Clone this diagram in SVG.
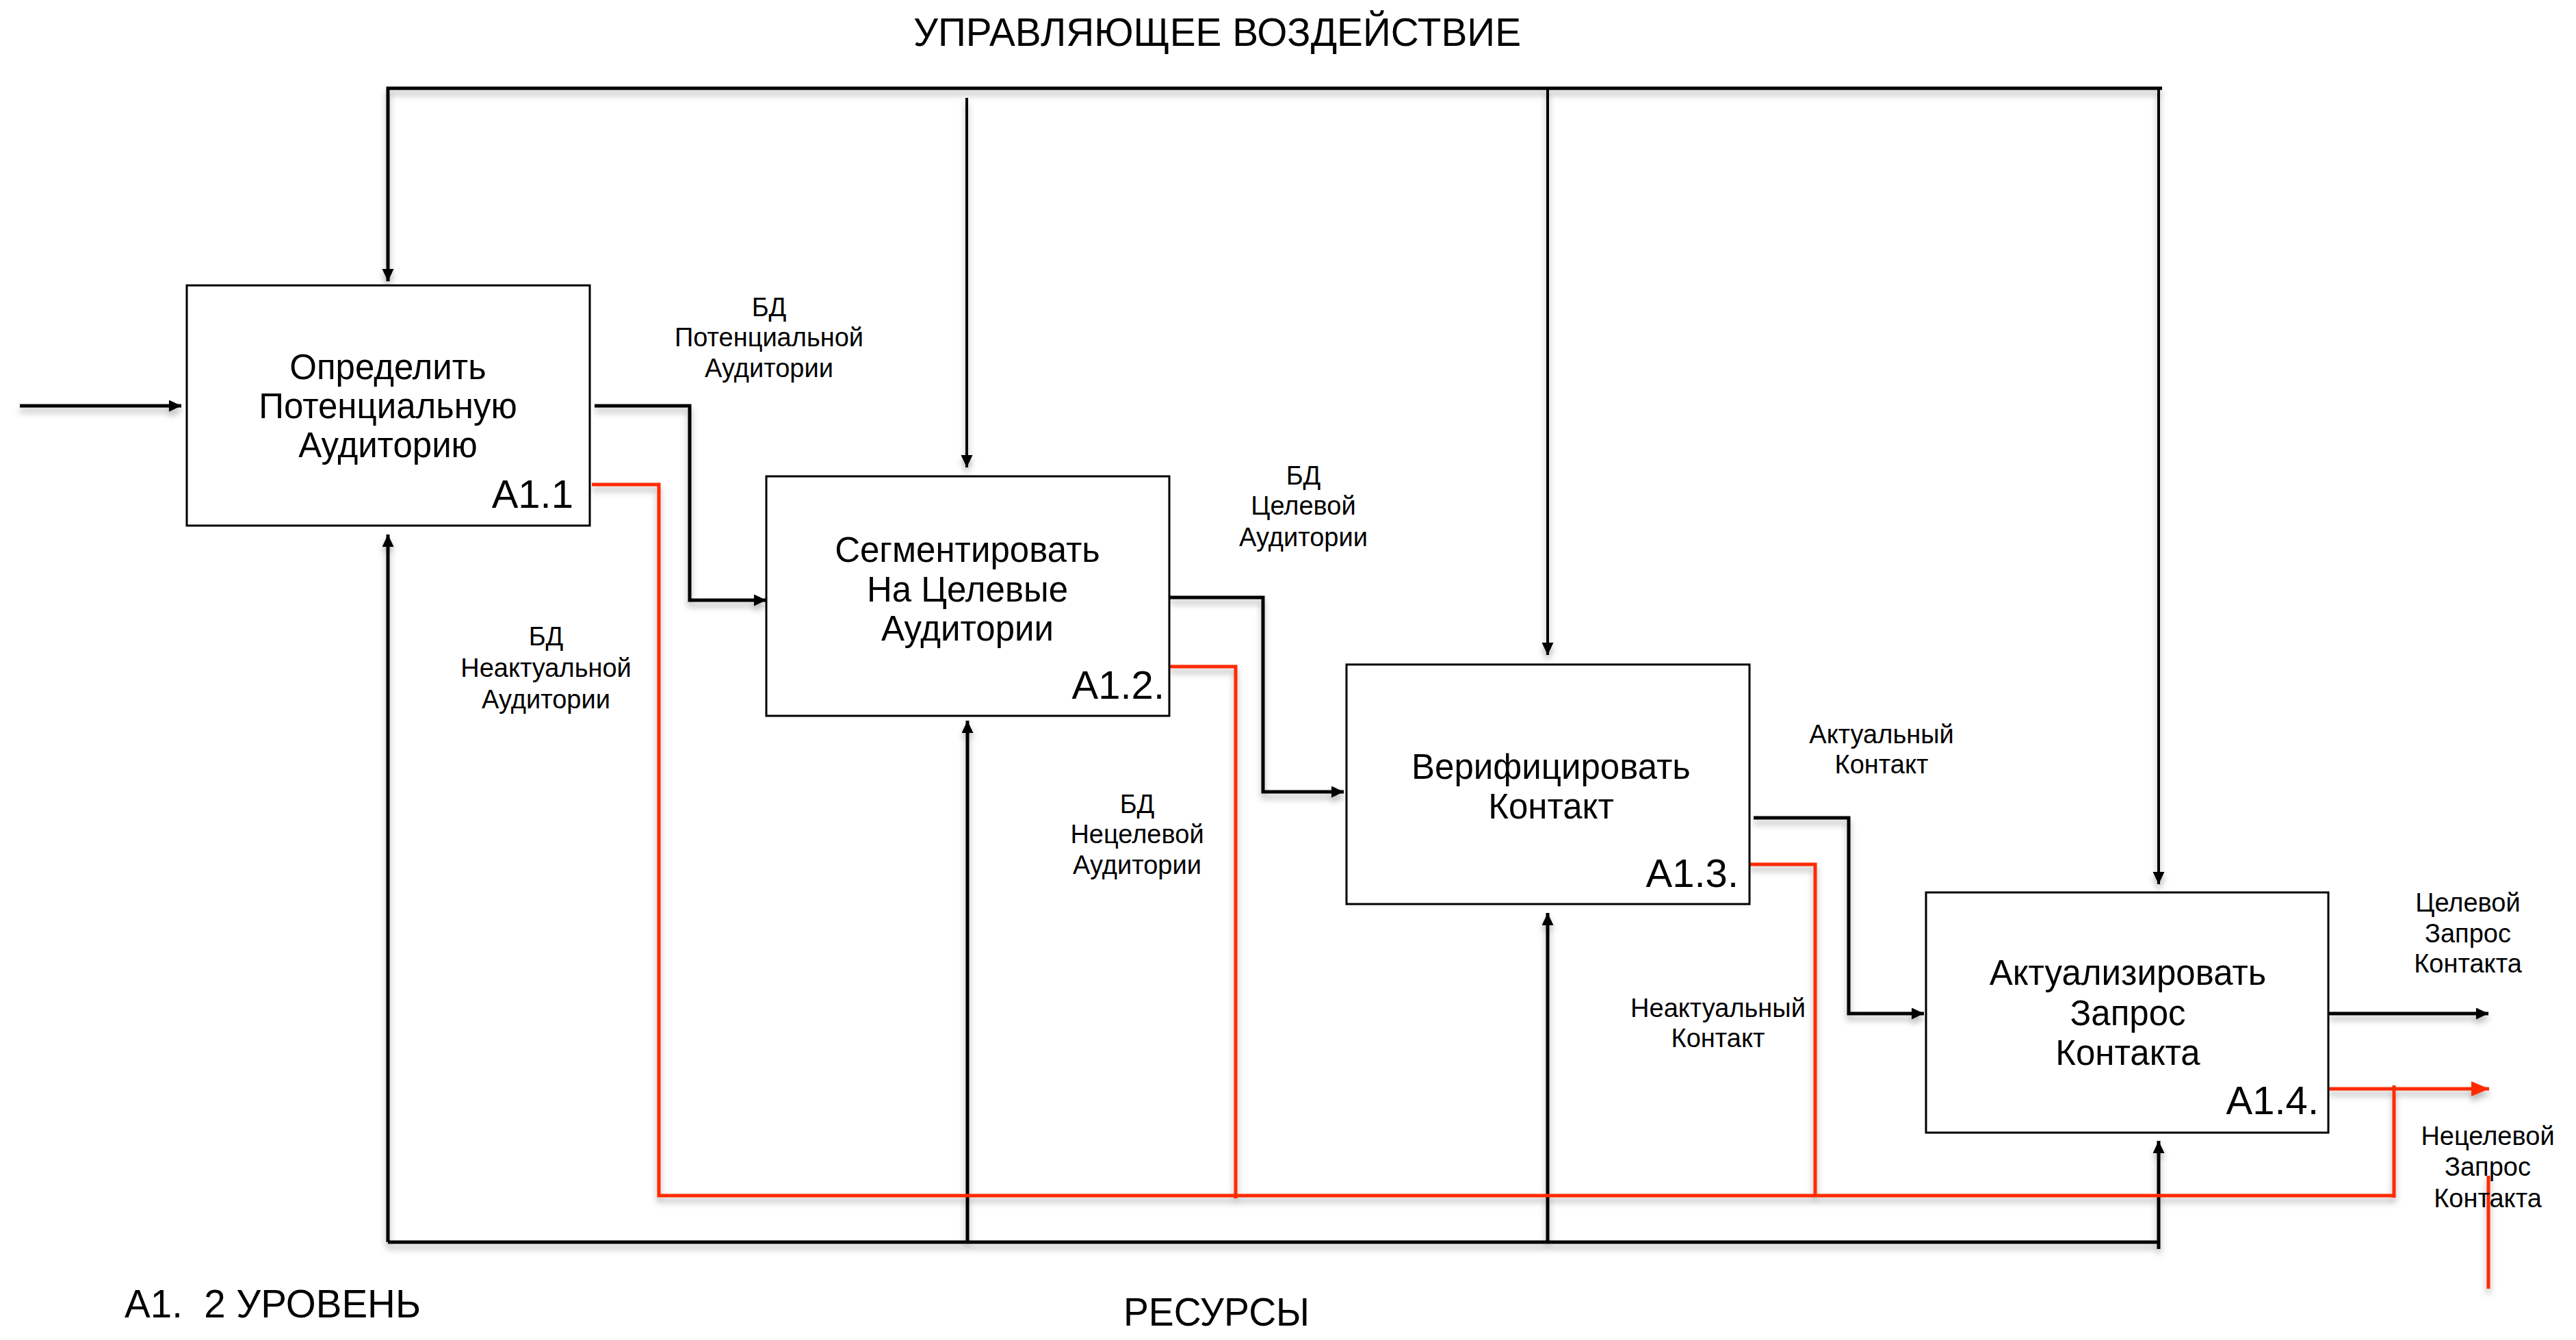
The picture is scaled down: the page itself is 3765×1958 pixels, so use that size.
<svg xmlns="http://www.w3.org/2000/svg" width="3765" height="1958" viewBox="0 0 3765 1958">
<style>
text{font-family:"Liberation Sans","DejaVu Sans",sans-serif;fill:#000}
.box{fill:#fff;stroke:#000;stroke-width:3}
.bt{font-size:51px;text-anchor:middle}
.id{font-size:58px;text-anchor:end}
.lbl{font-size:38px;text-anchor:middle}
.big{font-size:57px}
.k{fill:none;stroke:#000;stroke-width:5}
.kt{fill:none;stroke:#000;stroke-width:4}
.r{fill:none;stroke:#ff2a00;stroke-width:5}
</style>
<defs>
<filter id="sh" x="-5%" y="-5%" width="110%" height="110%">
<feDropShadow dx="0" dy="7" stdDeviation="5" flood-color="#000" flood-opacity="0.3"/>
</filter>
<marker id="ak" markerUnits="userSpaceOnUse" markerWidth="20" markerHeight="18" refX="18" refY="8.5" orient="auto">
<path d="M0,0 L18,8.5 L0,17 z" fill="#000"/>
</marker>
<marker id="ar" markerUnits="userSpaceOnUse" markerWidth="28" markerHeight="24" refX="26" refY="11" orient="auto">
<path d="M0,0 L26,11 L0,22 z" fill="#ff2a00"/>
</marker>
</defs>
<rect width="3765" height="1958" fill="#fff"/>

<g id="connectors" filter="url(#sh)">
<path class="k" d="M3160,129 H567 V411" marker-end="url(#ak)"/>
<path class="kt" d="M1413,143 V683" marker-end="url(#ak)"/>
<path class="kt" d="M2262,129 V957" marker-end="url(#ak)"/>
<path class="kt" d="M3155,129 V1292" marker-end="url(#ak)"/>
<path class="k" d="M29,593 H265" marker-end="url(#ak)"/>
<path class="k" d="M869,593 H1008 V877 H1120" marker-end="url(#ak)"/>
<path class="k" d="M1709,873 H1846 V1157 H1964" marker-end="url(#ak)"/>
<path class="k" d="M2563,1195 H2702 V1481 H2812" marker-end="url(#ak)"/>
<path class="k" d="M3403,1481 H3637" marker-end="url(#ak)"/>
<path class="k" d="M567,1815 H3155"/>
<path class="k" d="M567,1815 V781" marker-end="url(#ak)"/>
<path class="k" d="M1414,1815 V1053" marker-end="url(#ak)"/>
<path class="k" d="M2262,1815 V1334" marker-end="url(#ak)"/>
<path class="k" d="M3155,1825 V1667" marker-end="url(#ak)"/>
<path class="r" d="M865,708 H963 V1747 H3499"/>
<path class="r" d="M1709,974 H1806 V1751"/>
<path class="r" d="M2557,1263 H2653 V1747"/>
<path class="r" d="M3499,1750 V1586"/>
<path class="r" d="M3403,1591 H3638" marker-end="url(#ar)"/>
<path class="r" d="M3637,1718 V1883"/>
</g>

<g id="node-a11">
<rect class="box" x="273" y="417" width="589" height="351"/>
<text class="bt" x="567" y="554">Определить</text>
<text class="bt" x="567" y="611">Потенциальную</text>
<text class="bt" x="567" y="668">Аудиторию</text>
<text class="id" x="838" y="742">A1.1</text>
</g>
<g id="node-a12">
<rect class="box" x="1120" y="696" width="589" height="350"/>
<text class="bt" x="1414" y="821">Сегментировать</text>
<text class="bt" x="1414" y="879">На Целевые</text>
<text class="bt" x="1414" y="936">Аудитории</text>
<text class="id" x="1702" y="1021">A1.2.</text>
</g>
<g id="node-a13">
<rect class="box" x="1968" y="971" width="589" height="350"/>
<text class="bt" x="2267" y="1138">Верифицировать</text>
<text class="bt" x="2267" y="1196">Контакт</text>
<text class="id" x="2541" y="1296">A1.3.</text>
</g>
<g id="node-a14">
<rect class="box" x="2815" y="1304" width="588" height="351"/>
<text class="bt" x="3110" y="1439">Актуализировать</text>
<text class="bt" x="3110" y="1498">Запрос</text>
<text class="bt" x="3110" y="1556">Контакта</text>
<text class="id" x="3389" y="1628">A1.4.</text>
</g>

<g id="labels">
<text class="big" x="1335" y="67" textLength="888" lengthAdjust="spacingAndGlyphs">УПРАВЛЯЮЩЕЕ ВОЗДЕЙСТВИЕ</text>
<text class="big" x="1642" y="1937" textLength="272" lengthAdjust="spacingAndGlyphs">РЕСУРСЫ</text>
<text class="big" x="182" y="1925" textLength="433" lengthAdjust="spacingAndGlyphs" xml:space="preserve">A1.  2 УРОВЕНЬ</text>
<text class="lbl" x="1124" y="462">БД</text>
<text class="lbl" x="1124" y="506">Потенциальной</text>
<text class="lbl" x="1124" y="551">Аудитории</text>
<text class="lbl" x="798" y="943">БД</text>
<text class="lbl" x="798" y="989">Неактуальной</text>
<text class="lbl" x="798" y="1035">Аудитории</text>
<text class="lbl" x="1905" y="708">БД</text>
<text class="lbl" x="1905" y="752">Целевой</text>
<text class="lbl" x="1905" y="798">Аудитории</text>
<text class="lbl" x="1662" y="1188">БД</text>
<text class="lbl" x="1662" y="1232">Нецелевой</text>
<text class="lbl" x="1662" y="1277">Аудитории</text>
<text class="lbl" x="2750" y="1086">Актуальный</text>
<text class="lbl" x="2750" y="1130">Контакт</text>
<text class="lbl" x="2511" y="1486">Неактуальный</text>
<text class="lbl" x="2511" y="1530">Контакт</text>
<text class="lbl" x="3607" y="1332">Целевой</text>
<text class="lbl" x="3607" y="1377">Запрос</text>
<text class="lbl" x="3607" y="1421">Контакта</text>
<text class="lbl" x="3636" y="1673">Нецелевой</text>
<text class="lbl" x="3636" y="1718">Запрос</text>
<text class="lbl" x="3636" y="1764">Контакта</text>
</g>
</svg>
